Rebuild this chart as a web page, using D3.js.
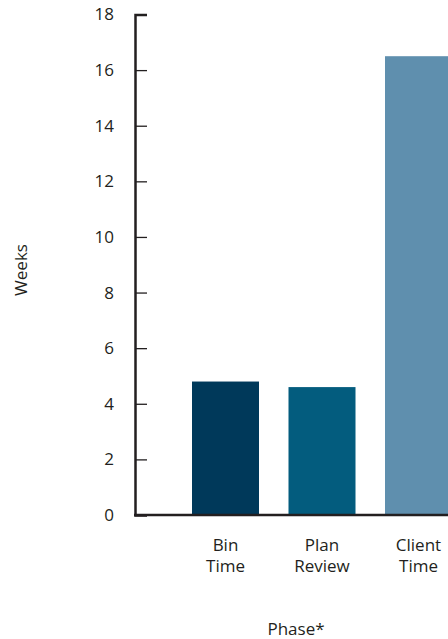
<!DOCTYPE html>
<html><head><meta charset="utf-8">
<script src="https://cdn.jsdelivr.net/npm/d3@7"></script>
<style>body{margin:0;background:#fff;overflow:hidden}svg{display:block}text{font-family:"Open Sans",sans-serif;fill:#231f20}</style>
</head><body>
<script>
const categories = [["Bin","Time"],["Plan","Review"],["Client","Time"]];
const values = [4.8, 4.6, 16.5];
const colors = ["#00395a", "#035c7e", "#5f8fae"];
const yTicks = [0,2,4,6,8,10,12,14,16,18];

const W = 448, H = 639;
const svg = d3.select("body").append("svg").attr("width", W).attr("height", H);
const y = d3.scaleLinear().domain([0,18]).range([515,14.5]);
const x = d3.scaleBand().domain(d3.range(categories.length)).range([143.75, 500.25]).paddingInner(0.3057).paddingOuter(0.5);

// bars
svg.selectAll("rect.bar").data(values).join("rect")
  .attr("x", (d,i)=>x(i)).attr("width", x.bandwidth())
  .attr("y", d=>y(d)).attr("height", d=>y(0)-y(d))
  .attr("fill", (d,i)=>colors[i]);

// y axis
const yAxis = d3.axisLeft(y).tickValues(yTicks).tickSize(-12).tickPadding(21).tickFormat(d3.format("d"));
const ga = svg.append("g").attr("transform","translate(135,0)").call(yAxis);
ga.select(".domain").attr("stroke","#231f20").attr("stroke-width",2.5);
ga.selectAll(".tick line").attr("stroke","#231f20").attr("stroke-width",1.3);
ga.selectAll(".tick text").attr("font-size",17).attr("fill","#231f20").attr("font-family","Open Sans");

// baseline
svg.append("line").attr("x1",134).attr("x2",W).attr("y1",y(0)).attr("y2",y(0))
  .attr("stroke","#231f20").attr("stroke-width",2.5);

// category labels
categories.forEach((c,i)=>{
  const t = svg.append("text").attr("text-anchor","middle").attr("font-size",17)
    .attr("x", x(i)+x.bandwidth()/2).attr("y",551);
  c.forEach((s,j)=>t.append("tspan").attr("x", x(i)+x.bandwidth()/2).attr("dy", j?21:0).text(s));
});

svg.append("text").attr("text-anchor","middle").attr("font-size",17)
  .attr("transform","translate(27,270) rotate(-90)").text("Weeks");
svg.append("text").attr("text-anchor","middle").attr("font-size",17)
  .attr("x",296).attr("y",635).text("Phase*");
</script>
</body></html>
